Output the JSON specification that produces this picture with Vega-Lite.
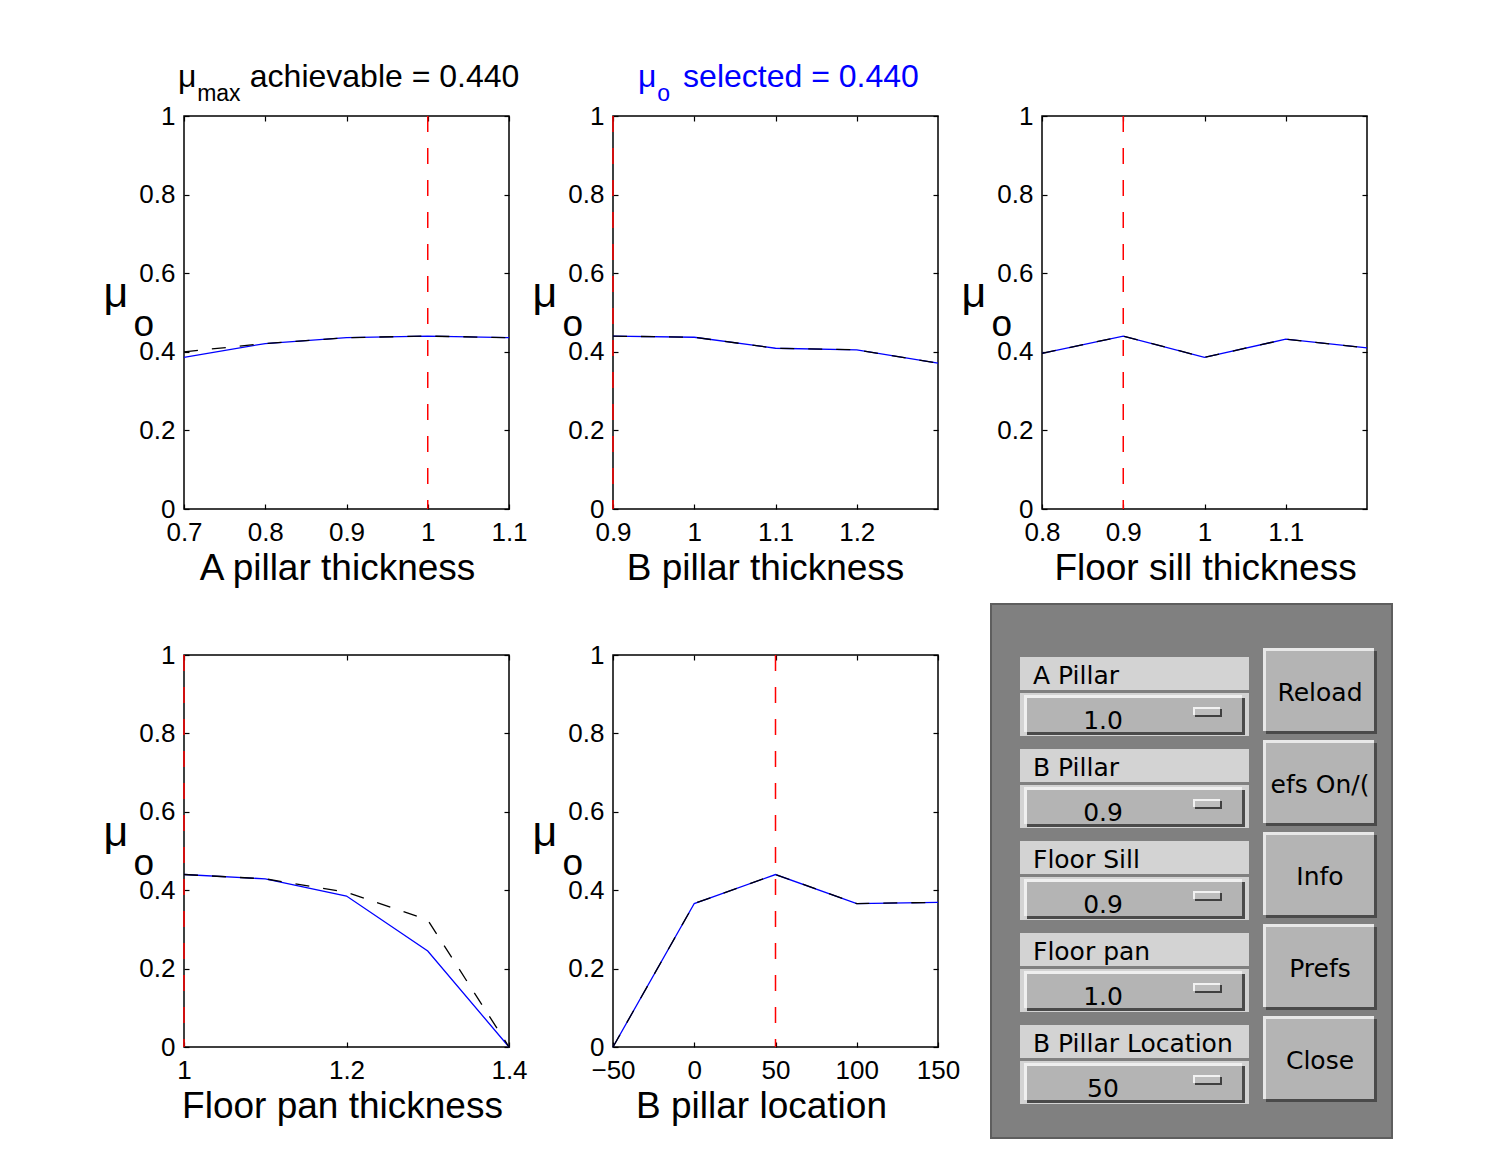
{
  "$schema": "https://vega.github.io/schema/vega-lite/v6.json",
  "autosize": {"type": "none"},
  "padding": {"left": 184, "top": 116, "right": 1311, "bottom": 1035},
  "background": "white",
  "datasets": {
    "a_pillar": [
      {"setting": 0.7, "mu_selected": 0.386, "mu_max": 0.400},
      {"setting": 0.8, "mu_selected": 0.421, "mu_max": 0.421},
      {"setting": 0.9, "mu_selected": 0.436, "mu_max": 0.436},
      {"setting": 1.0, "mu_selected": 0.440, "mu_max": 0.440},
      {"setting": 1.1, "mu_selected": 0.436, "mu_max": 0.436}
    ],
    "b_pillar": [
      {"setting": 0.9, "mu_selected": 0.440, "mu_max": 0.440},
      {"setting": 1.0, "mu_selected": 0.437, "mu_max": 0.437},
      {"setting": 1.1, "mu_selected": 0.409, "mu_max": 0.409},
      {"setting": 1.2, "mu_selected": 0.405, "mu_max": 0.405},
      {"setting": 1.3, "mu_selected": 0.371, "mu_max": 0.371}
    ],
    "floor_sill": [
      {"setting": 0.8, "mu_selected": 0.396, "mu_max": 0.396},
      {"setting": 0.9, "mu_selected": 0.440, "mu_max": 0.440},
      {"setting": 1.0, "mu_selected": 0.386, "mu_max": 0.386},
      {"setting": 1.1, "mu_selected": 0.432, "mu_max": 0.432},
      {"setting": 1.2, "mu_selected": 0.410, "mu_max": 0.410}
    ],
    "floor_pan": [
      {"setting": 1.0, "mu_selected": 0.440, "mu_max": 0.440},
      {"setting": 1.1, "mu_selected": 0.429, "mu_max": 0.429},
      {"setting": 1.2, "mu_selected": 0.385, "mu_max": 0.395},
      {"setting": 1.3, "mu_selected": 0.245, "mu_max": 0.324},
      {"setting": 1.4, "mu_selected": 0.0, "mu_max": 0.0}
    ],
    "b_location": [
      {"setting": -50, "mu_selected": 0.0, "mu_max": 0.0},
      {"setting": 0, "mu_selected": 0.366, "mu_max": 0.366},
      {"setting": 50, "mu_selected": 0.440, "mu_max": 0.440},
      {"setting": 100, "mu_selected": 0.366, "mu_max": 0.366},
      {"setting": 150, "mu_selected": 0.369, "mu_max": 0.369}
    ],
    "controls": [
      {"slot": 0, "label": "A Pillar", "value": "1.0", "button": "Reload"},
      {"slot": 1, "label": "B Pillar", "value": "0.9", "button": "efs On/("},
      {"slot": 2, "label": "Floor Sill", "value": "0.9", "button": "Info"},
      {"slot": 3, "label": "Floor pan", "value": "1.0", "button": "Prefs"},
      {"slot": 4, "label": "B Pillar Location", "value": "50", "button": "Close"}
    ]
  },
  "columns": 3,
  "bounds": "flush",
  "align": "all",
  "spacing": {"row": 146, "column": 104},
  "concat": [
    {
      "width": 325, "height": 393,
      "data": {"name": "a_pillar"},
      "title": {"text": "μ\u00A0\u00A0\u00A0\u00A0\u00A0\u00A0achievable = 0.440", "subtitle": "\u200B\u00A0\u00A0\u00A0max", "dx": -6},
      "layer": [
        {"mark": {"type": "line", "color": "#0000ff", "strokeWidth": 1.3},
         "encoding": {
           "x": {"field": "setting", "type": "quantitative", "scale": {"domain": [0.7, 1.1], "nice": false, "zero": false},
                 "axis": {"orient": "bottom", "values": [0.7, 0.8, 0.9, 1.0, 1.1], "format": "~r", "title": "A pillar thickness", "labelPadding": 15, "titleX": 153, "titleY": 70, "titleAlign": "center", "titleBaseline": "alphabetic"}},
           "y": {"field": "mu_selected", "type": "quantitative", "scale": {"domain": [0, 1], "nice": false, "zero": false},
                 "axis": {"orient": "left", "values": [0, 0.2, 0.4, 0.6, 0.8, 1], "format": "~r", "title": "μ", "titleFontSize": 43, "labelPadding": 14, "titleAngle": 0, "titleAlign": "left", "titleBaseline": "alphabetic", "titleX": -81, "titleY": 190}}
         }},
        {"mark": {"type": "line", "color": "black", "strokeWidth": 1.3, "strokeDash": [14, 14]},
         "encoding": {
           "x": {"field": "setting", "type": "quantitative", "axis": {"orient": "top", "values": [0.7, 0.8, 0.9, 1.0, 1.1], "labels": false, "title": null}},
           "y": {"field": "mu_max", "type": "quantitative", "axis": {"orient": "right", "values": [0, 0.2, 0.4, 0.6, 0.8, 1], "labels": false, "title": "o", "titleAngle": 0, "titleAlign": "left", "titleBaseline": "alphabetic", "titleX": -376, "titleY": 219.5}}
         }},
        {"data": {"values": [{"selected": 1.0}]},
         "mark": {"type": "rule", "color": "#ff0000", "strokeWidth": 1.5, "strokeDash": [16, 16]},
         "encoding": {"x": {"field": "selected", "type": "quantitative", "axis": null}}}
      ],
      "resolve": {"axis": {"x": "independent", "y": "independent"}}
    },
    {
      "width": 325, "height": 393,
      "data": {"name": "b_pillar"},
      "title": {"text": "μ\u00A0\u00A0\u00A0selected = 0.440", "subtitle": "\u200B\u00A0\u00A0\u00A0o", "dx": 25, "color": "#0000ff", "subtitleColor": "#0000ff"},
      "layer": [
        {"mark": {"type": "line", "color": "#0000ff", "strokeWidth": 1.3},
         "encoding": {
           "x": {"field": "setting", "type": "quantitative", "scale": {"domain": [0.9, 1.3], "nice": false, "zero": false},
                 "axis": {"orient": "bottom", "values": [0.9, 1.0, 1.1, 1.2], "format": "~r", "title": "B pillar thickness", "labelPadding": 15, "titleX": 152, "titleY": 70, "titleAlign": "center", "titleBaseline": "alphabetic"}},
           "y": {"field": "mu_selected", "type": "quantitative", "scale": {"domain": [0, 1], "nice": false, "zero": false},
                 "axis": {"orient": "left", "values": [0, 0.2, 0.4, 0.6, 0.8, 1], "format": "~r", "title": "μ", "titleFontSize": 43, "labelPadding": 14, "titleAngle": 0, "titleAlign": "left", "titleBaseline": "alphabetic", "titleX": -81, "titleY": 190}}
         }},
        {"mark": {"type": "line", "color": "black", "strokeWidth": 1.3, "strokeDash": [14, 14]},
         "encoding": {
           "x": {"field": "setting", "type": "quantitative", "axis": {"orient": "top", "values": [0.9, 1.0, 1.1, 1.2], "labels": false, "title": null}},
           "y": {"field": "mu_max", "type": "quantitative", "axis": {"orient": "right", "values": [0, 0.2, 0.4, 0.6, 0.8, 1], "labels": false, "title": "o", "titleAngle": 0, "titleAlign": "left", "titleBaseline": "alphabetic", "titleX": -376, "titleY": 219.5}}
         }},
        {"data": {"values": [{"selected": 0.9}]},
         "mark": {"type": "rule", "color": "#ff0000", "strokeWidth": 1.5, "strokeDash": [16, 16]},
         "encoding": {"x": {"field": "selected", "type": "quantitative", "axis": null}}}
      ],
      "resolve": {"axis": {"x": "independent", "y": "independent"}}
    },
    {
      "width": 325, "height": 393,
      "data": {"name": "floor_sill"},
      "layer": [
        {"mark": {"type": "line", "color": "#0000ff", "strokeWidth": 1.3},
         "encoding": {
           "x": {"field": "setting", "type": "quantitative", "scale": {"domain": [0.8, 1.2], "nice": false, "zero": false},
                 "axis": {"orient": "bottom", "values": [0.8, 0.9, 1.0, 1.1], "format": "~r", "title": "Floor sill thickness", "labelPadding": 15, "titleX": 163, "titleY": 70, "titleAlign": "center", "titleBaseline": "alphabetic"}},
           "y": {"field": "mu_selected", "type": "quantitative", "scale": {"domain": [0, 1], "nice": false, "zero": false},
                 "axis": {"orient": "left", "values": [0, 0.2, 0.4, 0.6, 0.8, 1], "format": "~r", "title": "μ", "titleFontSize": 43, "labelPadding": 14, "titleAngle": 0, "titleAlign": "left", "titleBaseline": "alphabetic", "titleX": -81, "titleY": 190}}
         }},
        {"mark": {"type": "line", "color": "black", "strokeWidth": 1.3, "strokeDash": [14, 14]},
         "encoding": {
           "x": {"field": "setting", "type": "quantitative", "axis": {"orient": "top", "values": [0.8, 0.9, 1.0, 1.1], "labels": false, "title": null}},
           "y": {"field": "mu_max", "type": "quantitative", "axis": {"orient": "right", "values": [0, 0.2, 0.4, 0.6, 0.8, 1], "labels": false, "title": "o", "titleAngle": 0, "titleAlign": "left", "titleBaseline": "alphabetic", "titleX": -376, "titleY": 219.5}}
         }},
        {"data": {"values": [{"selected": 0.9}]},
         "mark": {"type": "rule", "color": "#ff0000", "strokeWidth": 1.5, "strokeDash": [16, 16]},
         "encoding": {"x": {"field": "selected", "type": "quantitative", "axis": null}}}
      ],
      "resolve": {"axis": {"x": "independent", "y": "independent"}}
    },
    {
      "width": 325, "height": 392,
      "data": {"name": "floor_pan"},
      "layer": [
        {"mark": {"type": "line", "color": "#0000ff", "strokeWidth": 1.3},
         "encoding": {
           "x": {"field": "setting", "type": "quantitative", "scale": {"domain": [1.0, 1.4], "nice": false, "zero": false},
                 "axis": {"orient": "bottom", "values": [1.0, 1.2, 1.4], "format": "~r", "title": "Floor pan thickness", "labelPadding": 15, "titleX": 158, "titleY": 70, "titleAlign": "center", "titleBaseline": "alphabetic"}},
           "y": {"field": "mu_selected", "type": "quantitative", "scale": {"domain": [0, 1], "nice": false, "zero": false},
                 "axis": {"orient": "left", "values": [0, 0.2, 0.4, 0.6, 0.8, 1], "format": "~r", "title": "μ", "titleFontSize": 43, "labelPadding": 14, "titleAngle": 0, "titleAlign": "left", "titleBaseline": "alphabetic", "titleX": -81, "titleY": 190}}
         }},
        {"mark": {"type": "line", "color": "black", "strokeWidth": 1.3, "strokeDash": [14, 14]},
         "encoding": {
           "x": {"field": "setting", "type": "quantitative", "axis": {"orient": "top", "values": [1.0, 1.2, 1.4], "labels": false, "title": null}},
           "y": {"field": "mu_max", "type": "quantitative", "axis": {"orient": "right", "values": [0, 0.2, 0.4, 0.6, 0.8, 1], "labels": false, "title": "o", "titleAngle": 0, "titleAlign": "left", "titleBaseline": "alphabetic", "titleX": -376, "titleY": 219.5}}
         }},
        {"data": {"values": [{"selected": 1.0}]},
         "mark": {"type": "rule", "color": "#ff0000", "strokeWidth": 1.5, "strokeDash": [16, 16]},
         "encoding": {"x": {"field": "selected", "type": "quantitative", "axis": null}}}
      ],
      "resolve": {"axis": {"x": "independent", "y": "independent"}}
    },
    {
      "width": 325, "height": 392,
      "data": {"name": "b_location"},
      "layer": [
        {"mark": {"type": "line", "color": "#0000ff", "strokeWidth": 1.3},
         "encoding": {
           "x": {"field": "setting", "type": "quantitative", "scale": {"domain": [-50, 150], "nice": false, "zero": false},
                 "axis": {"orient": "bottom", "values": [-50, 0, 50, 100, 150], "format": "~r", "title": "B pillar location", "labelPadding": 15, "titleX": 148, "titleY": 70, "titleAlign": "center", "titleBaseline": "alphabetic"}},
           "y": {"field": "mu_selected", "type": "quantitative", "scale": {"domain": [0, 1], "nice": false, "zero": false},
                 "axis": {"orient": "left", "values": [0, 0.2, 0.4, 0.6, 0.8, 1], "format": "~r", "title": "μ", "titleFontSize": 43, "labelPadding": 14, "titleAngle": 0, "titleAlign": "left", "titleBaseline": "alphabetic", "titleX": -81, "titleY": 190}}
         }},
        {"mark": {"type": "line", "color": "black", "strokeWidth": 1.3, "strokeDash": [14, 14]},
         "encoding": {
           "x": {"field": "setting", "type": "quantitative", "axis": {"orient": "top", "values": [-50, 0, 50, 100, 150], "labels": false, "title": null}},
           "y": {"field": "mu_max", "type": "quantitative", "axis": {"orient": "right", "values": [0, 0.2, 0.4, 0.6, 0.8, 1], "labels": false, "title": "o", "titleAngle": 0, "titleAlign": "left", "titleBaseline": "alphabetic", "titleX": -376, "titleY": 219.5}}
         }},
        {"data": {"values": [{"selected": 50}]},
         "mark": {"type": "rule", "color": "#ff0000", "strokeWidth": 1.5, "strokeDash": [16, 16]},
         "encoding": {"x": {"field": "selected", "type": "quantitative", "axis": null}}}
      ],
      "resolve": {"axis": {"x": "independent", "y": "independent"}}
    },
    {
      "width": 325, "height": 392,
      "view": {"stroke": null},
      "data": {"name": "controls"},
      "layer": [
        {"data": {"values": [{"panel": "controls"}]},
         "mark": {"type": "rect", "fill": "#808080", "stroke": "#5e5e5e", "strokeWidth": 2},
         "encoding": {
           "x": {"datum": 1, "type": "quantitative", "scale": {"domain": [52, 377], "nice": false, "zero": false}, "axis": null},
           "x2": {"datum": 402},
           "y": {"datum": -0.9348, "type": "quantitative", "scale": {"domain": [-0.3804, 3.8804], "reverse": true, "nice": false, "zero": false}, "axis": null},
           "y2": {"datum": 4.8696}
         }},
        {"mark": {"type": "rect", "fill": "#d3d3d3", "yOffset": -33, "y2Offset": 0},
         "encoding": {"x": {"datum": 30, "type": "quantitative", "axis": null}, "x2": {"datum": 259},
                      "y": {"field": "slot", "type": "quantitative", "axis": null}, "y2": {"field": "slot"}}},
        {"mark": {"type": "text", "align": "left", "baseline": "alphabetic", "font": "DejaVu Sans", "fontSize": 25, "color": "black", "yOffset": -6},
         "encoding": {"x": {"datum": 43, "type": "quantitative", "axis": null},
                      "y": {"field": "slot", "type": "quantitative", "axis": null}, "text": {"field": "label"}}},
        {"mark": {"type": "rect", "fill": "#d3d3d3", "yOffset": 3, "y2Offset": 46},
         "encoding": {"x": {"datum": 30, "type": "quantitative", "axis": null}, "x2": {"datum": 259},
                      "y": {"field": "slot", "type": "quantitative", "axis": null}, "y2": {"field": "slot"}}},
        {"mark": {"type": "rect", "fill": "#efefef", "yOffset": 5, "y2Offset": 42},
         "encoding": {"x": {"datum": 34, "type": "quantitative", "axis": null}, "x2": {"datum": 252},
                      "y": {"field": "slot", "type": "quantitative", "axis": null}, "y2": {"field": "slot"}}},
        {"mark": {"type": "rect", "fill": "#4a4a4a", "yOffset": 8, "y2Offset": 45},
         "encoding": {"x": {"datum": 37, "type": "quantitative", "axis": null}, "x2": {"datum": 255},
                      "y": {"field": "slot", "type": "quantitative", "axis": null}, "y2": {"field": "slot"}}},
        {"mark": {"type": "rect", "fill": "#b4b4b4", "yOffset": 8, "y2Offset": 42},
         "encoding": {"x": {"datum": 37, "type": "quantitative", "axis": null}, "x2": {"datum": 252},
                      "y": {"field": "slot", "type": "quantitative", "axis": null}, "y2": {"field": "slot"}}},
        {"mark": {"type": "text", "align": "center", "baseline": "alphabetic", "font": "DejaVu Sans", "fontSize": 25, "color": "black", "yOffset": 39},
         "encoding": {"x": {"datum": 113, "type": "quantitative", "axis": null},
                      "y": {"field": "slot", "type": "quantitative", "axis": null}, "text": {"field": "value"}}},
        {"mark": {"type": "rect", "fill": "#f2f2f2", "yOffset": 17, "y2Offset": 25},
         "encoding": {"x": {"datum": 203, "type": "quantitative", "axis": null}, "x2": {"datum": 230},
                      "y": {"field": "slot", "type": "quantitative", "axis": null}, "y2": {"field": "slot"}}},
        {"mark": {"type": "rect", "fill": "#404040", "yOffset": 19, "y2Offset": 27},
         "encoding": {"x": {"datum": 205, "type": "quantitative", "axis": null}, "x2": {"datum": 232},
                      "y": {"field": "slot", "type": "quantitative", "axis": null}, "y2": {"field": "slot"}}},
        {"mark": {"type": "rect", "fill": "#bdbdbd", "yOffset": 19, "y2Offset": 25},
         "encoding": {"x": {"datum": 205, "type": "quantitative", "axis": null}, "x2": {"datum": 230},
                      "y": {"field": "slot", "type": "quantitative", "axis": null}, "y2": {"field": "slot"}}},
        {"mark": {"type": "rect", "fill": "#e8e8e8", "yOffset": -42, "y2Offset": 41},
         "encoding": {"x": {"datum": 273, "type": "quantitative", "axis": null}, "x2": {"datum": 384},
                      "y": {"field": "slot", "type": "quantitative", "axis": null}, "y2": {"field": "slot"}}},
        {"mark": {"type": "rect", "fill": "#4a4a4a", "yOffset": -39, "y2Offset": 44},
         "encoding": {"x": {"datum": 276, "type": "quantitative", "axis": null}, "x2": {"datum": 387},
                      "y": {"field": "slot", "type": "quantitative", "axis": null}, "y2": {"field": "slot"}}},
        {"mark": {"type": "rect", "fill": "#b4b4b4", "yOffset": -39, "y2Offset": 41},
         "encoding": {"x": {"datum": 276, "type": "quantitative", "axis": null}, "x2": {"datum": 384},
                      "y": {"field": "slot", "type": "quantitative", "axis": null}, "y2": {"field": "slot"}}},
        {"mark": {"type": "text", "align": "center", "baseline": "alphabetic", "font": "DejaVu Sans", "fontSize": 25, "color": "black", "yOffset": 11},
         "encoding": {"x": {"datum": 330, "type": "quantitative", "axis": null},
                      "y": {"field": "slot", "type": "quantitative", "axis": null}, "text": {"field": "button"}}}
      ]
    }
  ],
  "config": {
    "font": "Liberation Sans",
    "view": {"stroke": "black", "strokeWidth": 1.5},
    "axis": {
      "domain": false, "grid": false,
      "ticks": true, "tickSize": -5, "tickColor": "black", "tickWidth": 1.2,
      "labelFont": "Liberation Sans", "labelFontSize": 26, "labelColor": "black",
      "labelFlush": false, "labelOverlap": false,
      "titleFont": "Liberation Sans", "titleFontSize": 37, "titleFontWeight": "normal", "titleColor": "black"
    },
    "title": {
      "font": "Liberation Sans", "fontSize": 32, "fontWeight": "normal", "color": "black",
      "anchor": "start", "frame": "group", "offset": -4,
      "subtitleFont": "Liberation Sans", "subtitleFontSize": 23, "subtitleColor": "black", "subtitlePadding": -11
    }
  }
}
